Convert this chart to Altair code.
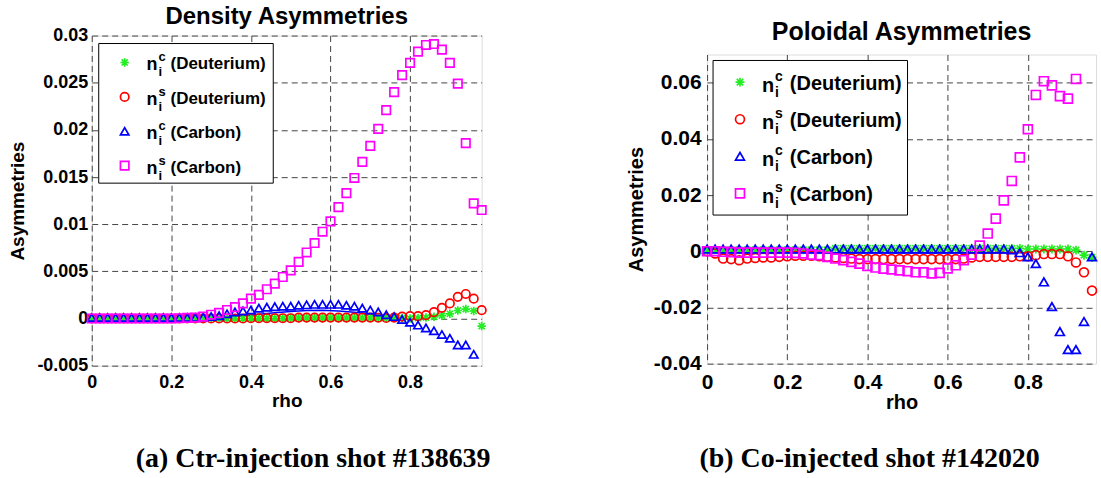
import altair as alt
import pandas as pd

SANS = "Liberation Sans"
SERIF = "Liberation Serif"

# ---------------- series definitions ----------------
series_keys = ["ncD", "nsD", "ncC", "nsC"]
series_sup = ["c", "s", "c", "s"]
series_name = ["(Deuterium)", "(Deuterium)", "(Carbon)", "(Carbon)"]
series_colors = ["#22ee22", "#ff0000", "#0000ff", "#ff00ff"]
STAR = "M-1,0L1,0M0,-1L0,1M-0.72,-0.72L0.72,0.72M-0.72,0.72L0.72,-0.72"
series_shapes = [STAR, "circle", "triangle-up", "square"]

# ---------------- (a) Density asymmetries ----------------
title_a = "Density Asymmetries"
caption_a = "(a) Ctr-injection shot #138639"
rho_a = [0.00, 0.02, 0.04, 0.06, 0.08, 0.10, 0.12, 0.14, 0.16, 0.18,
         0.20, 0.22, 0.24, 0.26, 0.28, 0.30, 0.32, 0.34, 0.36, 0.38,
         0.40, 0.42, 0.44, 0.46, 0.48, 0.50, 0.52, 0.54, 0.56, 0.58,
         0.60, 0.62, 0.64, 0.66, 0.68, 0.70, 0.72, 0.74, 0.76, 0.78,
         0.80, 0.82, 0.84, 0.86, 0.88, 0.90, 0.92, 0.94, 0.96, 0.98]
ncD_a = [0, 0, 0, 0, 0, 0, 0, 0, 0, 0,
         0, 0, 0, 0, 0, 0, 0, 0, 0, 0,
         0, 0, 0, 0, 0, 0.00005, 0.00005, 0.00005, 0.00005, 0.00005,
         0.00005, 0.00005, 0.00005, 0.00005, 0.00005, 0.00005, 0.00005, 0.00005, 0.00005, 0.00005,
         0.0, 0.00005, 0.0001, 0.00018, 0.0003, 0.0005, 0.00085, 0.001, 0.0008, -0.0008]
nsD_a = [0, 0, 0, 0, 0, 0, 0, 0, 0, 0,
         0, 0, 0, 0, 0, 0, 0, 0, 0, 0,
         0.00003, 0.00003, 0.00003, 0.00003, 0.00003, 0.00003, 0.0001, 0.0001, 0.0001, 0.0001,
         0.0001, 0.0001, 0.0001, 0.0001, 0.0001, 0.0001, 0.00008, 0.00005, 0.0001, 0.0002,
         0.00025, 0.00025, 0.00035, 0.00067, 0.00113, 0.0016, 0.0023, 0.0026, 0.0021, 0.00088]
ncC_a = [0.0001, 0.0001, 0.0001, 0.0001, 0.0001, 0.0001, 0.0001, 0.0001, 0.0001, 0.0001,
         0.0001, 0.0001, 0.0001, 0.0001, 0.00015, 0.0002, 0.0003, 0.0005, 0.0007, 0.0008,
         0.0009, 0.0011, 0.0012, 0.00125, 0.0013, 0.0013, 0.0014, 0.00145, 0.0015, 0.0015,
         0.0015, 0.0015, 0.0014, 0.0013, 0.0011, 0.0009, 0.0007, 0.0004, 0.0002, -0.0001,
         -0.0004, -0.0007, -0.001, -0.0013, -0.0017, -0.0021, -0.0028, -0.0028, -0.0038, None]
nsC_a = [0, 0, 0, 0, 0, 0, 0, 0, 0, 0,
         0, 0.00003, 0.00006, 0.0001, 0.0002, 0.0004, 0.0006, 0.0009, 0.0012, 0.0016,
         0.0021, 0.0025, 0.0031, 0.0037, 0.0044, 0.0051, 0.0060, 0.0070, 0.0080, 0.0092,
         0.0103, 0.0118, 0.0133, 0.0149, 0.0166, 0.0183, 0.0201, 0.0221, 0.0240, 0.0258,
         0.0271, 0.0283, 0.0290, 0.0291, 0.0285, 0.0271, 0.0249, 0.0186, 0.0122, 0.0115]
fit_rho_a = [0.26, 0.30, 0.34, 0.38, 0.42, 0.46, 0.50, 0.54, 0.58, 0.62, 0.66, 0.70, 0.74, 0.78]
fit_a = [0.0, 0.00005, 0.00015, 0.0003, 0.00045, 0.0006, 0.00075, 0.00085, 0.00088,
         0.0008, 0.00065, 0.00045, 0.00025, 0.00005]
xdom_a = [0, 0.98]
ydom_a = [-0.005, 0.03]
xticks_a = [0, 0.2, 0.4, 0.6, 0.8]
yticks_a = [-0.005, 0, 0.005, 0.01, 0.015, 0.02, 0.025, 0.03]

# ---------------- (b) Poloidal asymmetries ----------------
title_b = "Poloidal Asymmetries"
caption_b = "(b) Co-injected shot #142020"
rho_b = [0.00, 0.02, 0.04, 0.06, 0.08, 0.10, 0.12, 0.14, 0.16, 0.18,
         0.20, 0.22, 0.24, 0.26, 0.28, 0.30, 0.32, 0.34, 0.36, 0.38,
         0.40, 0.42, 0.44, 0.46, 0.48, 0.50, 0.52, 0.54, 0.56, 0.58,
         0.60, 0.62, 0.64, 0.66, 0.68, 0.70, 0.72, 0.74, 0.76, 0.78,
         0.80, 0.82, 0.84, 0.86, 0.88, 0.90, 0.92, 0.94, 0.96]
ncD_b = [0.0005, 0.0005, 0.0005, 0.0005, 0.0005, 0.0005, 0.0005, 0.0005, 0.0005, 0.0005,
         0.0005, 0.0005, 0.0005, 0.0005, 0.0005, 0.0005, 0.001, 0.001, 0.001, 0.001,
         0.001, 0.001, 0.001, 0.001, 0.001, 0.001, 0.001, 0.001, 0.001, 0.001,
         0.001, 0.001, 0.001, 0.001, 0.001, 0.001, 0.001, 0.001, 0.001, 0.001,
         0.0008, 0.0008, 0.0008, 0.0008, 0.0008, 0.0008, 0.0004, -0.0014, -0.0022]
nsD_b = [0.0, -0.0008, -0.0026, -0.0028, -0.0032, -0.0026, -0.0024, -0.0022, -0.0022, -0.002,
         -0.0018, -0.0016, -0.0016, -0.0016, -0.0018, -0.002, -0.0022, -0.0024, -0.0026, -0.0028,
         -0.0028, -0.0028, -0.0028, -0.0028, -0.0028, -0.0028, -0.0028, -0.0028, -0.0028, -0.0028,
         -0.0028, -0.0028, -0.0026, -0.0022, -0.002, -0.002, -0.002, -0.002, -0.002, -0.0018,
         -0.0018, -0.0014, -0.001, -0.001, -0.001, -0.0018, -0.004, -0.0075, -0.014]
ncC_b = [0.0008, 0.0008, 0.0008, 0.0008, 0.0008, 0.0008, 0.0008, 0.0008, 0.0008, 0.0008,
         0.0008, 0.0008, 0.0008, 0.0008, 0.0008, 0.0008, 0.0008, 0.0008, 0.0008, 0.0008,
         0.0008, 0.0008, 0.0008, 0.0008, 0.0008, 0.0008, 0.0008, 0.0008, 0.0008, 0.0008,
         0.0008, 0.0008, 0.0008, 0.0008, 0.0008, 0.0008, 0.0008, 0.0008, 0.0005, -0.0005,
         -0.002, -0.0044, -0.0109, -0.0197, -0.0286, -0.035, -0.035, -0.025, -0.002]
nsC_b = [0.0, 0.0, -0.0002, -0.0003, -0.0005, -0.0005, -0.0005, -0.0005, -0.0005, -0.0005,
         -0.0005, -0.0006, -0.0008, -0.0012, -0.0014, -0.002, -0.0026, -0.0032, -0.0038, -0.0044,
         -0.0052, -0.0058, -0.0062, -0.0065, -0.0068, -0.0071, -0.0075, -0.0075, -0.0079, -0.0077,
         -0.0061, -0.005, -0.0032, -0.0012, 0.002, 0.0063, 0.0116, 0.0181, 0.025, 0.0334,
         0.0434, 0.0556, 0.0605, 0.059, 0.0552, 0.0543, 0.0613, None, None]
fit_rho_b = [0.0, 0.80]
fit_b = [-0.0005, -0.0005]
xdom_b = [0, 0.97]
ydom_b = [-0.04, 0.07]
xticks_b = [0, 0.2, 0.4, 0.6, 0.8]
yticks_b = [-0.04, -0.02, 0, 0.02, 0.04, 0.06]

LABEL_EXPR = "replace(format(datum.value, '~g'), '\u2212', '-')"


def long_df(rho, cols):
    rows = []
    for key, vals in zip(series_keys, cols):
        for r, v in zip(rho, vals):
            if v is not None:
                rows.append({"rho": r, "val": v, "series": key})
    return pd.DataFrame(rows)


def panel(rho, cols, fit_rho, fit_val, xdom, ydom, xt, yt, title, caption, g):
    xs = alt.Scale(domain=xdom, nice=False, zero=False)
    ys = alt.Scale(domain=ydom, nice=False, zero=False)
    common = dict(grid=True, gridDash=[6, 4], gridColor="#444444", gridWidth=1,
                  ticks=False, tickSize=0, domain=False, labelExpr=LABEL_EXPR,
                  labelFont=SANS, labelFontWeight="bold", labelColor="black",
                  titleFont=SANS, titleFontWeight="bold", titleColor="black",
                  labelFlush=False, labelOverlap=False)
    xa = alt.Axis(values=xt, title="rho", labelFontSize=g["tick_fs"], titleFontSize=g["axt_fs"],
                  labelPadding=g["x_lp"], titlePadding=g["x_tp"], **common)
    ya = alt.Axis(values=yt, title="Asymmetries", labelFontSize=g["tick_fs"], titleFontSize=g["axt_fs"],
                  labelPadding=g["y_lp"], titlePadding=g["y_tp"], **common)
    X = alt.X("rho:Q", scale=xs, axis=xa)
    Y = alt.Y("val:Q", scale=ys, axis=ya)
    color = alt.Color("series:N", scale=alt.Scale(domain=series_keys, range=series_colors), legend=None)
    shape = alt.Shape("series:N", scale=alt.Scale(domain=series_keys, range=series_shapes), legend=None)

    fit = alt.Chart(pd.DataFrame({"rho": fit_rho, "val": fit_val})).mark_line(
        color="#0000ff", strokeWidth=1.5).encode(x=X, y=Y)
    pts = alt.Chart(long_df(rho, cols)).mark_point(
        filled=False, strokeWidth=1.7, opacity=1, size=g["msize"]).encode(
        x=X, y=Y, color=color, shape=shape)

    leg = pd.DataFrame({
        "series": series_keys, "sup": series_sup, "sub": ["i"] * 4, "name": series_name,
        "ypix": [g["row0"] + i * g["row_dy"] for i in range(4)],
    })
    Ypix = alt.Y("ypix:Q", scale=None)
    bx = g["box"]
    box = alt.Chart(pd.DataFrame({"a": [0]})).mark_rect(
        fill="white", stroke="black", strokeWidth=1).encode(
        x=alt.value(bx[0]), x2=alt.value(bx[1]), y=alt.value(bx[2]), y2=alt.value(bx[3]))
    sym = alt.Chart(leg).mark_point(filled=False, strokeWidth=1.7, opacity=1, size=g["msize"]).encode(
        x=alt.value(g["sym_x"]), y=Ypix, color=color, shape=shape)
    tkw = dict(align="left", baseline="middle", font=SANS, fontWeight="bold", color="black")
    ntx = alt.Chart(leg).mark_text(fontSize=g["n_fs"], dy=g["n_dy"], **tkw).encode(
        x=alt.value(g["n_x"]), y=Ypix, text=alt.value("n"))
    sup = alt.Chart(leg).mark_text(fontSize=g["s_fs"], dy=g["sup_dy"], **tkw).encode(
        x=alt.value(g["s_x"]), y=Ypix, text=alt.Text("sup:N"))
    sub = alt.Chart(leg).mark_text(fontSize=g["s_fs"], dy=g["sub_dy"], **tkw).encode(
        x=alt.value(g["s_x"]), y=Ypix, text=alt.Text("sub:N"))
    nam = alt.Chart(leg).mark_text(fontSize=g["l_fs"], dy=g["l_dy"], **tkw).encode(
        x=alt.value(g["l_x"]), y=Ypix, text=alt.Text("name:N"))
    cap = alt.Chart(pd.DataFrame({"t": [caption]})).mark_text(
        font=SERIF, fontSize=28, fontWeight="bold", align="center", baseline="middle",
        color="black").encode(x=alt.value(g["cap"][0]), y=alt.value(g["cap"][1]), text=alt.Text("t:N"))

    return alt.layer(fit, pts, box, sym, ntx, sup, sub, nam, cap).properties(
        width=g["w"], height=g["h"],
        title=alt.TitleParams(title, font=SANS, fontSize=g["title_fs"], fontWeight="bold",
                              color="black", offset=g["title_off"], anchor="middle", frame="group"))


geo_a = dict(w=391, h=331, tick_fs=18, axt_fs=19, x_lp=8, x_tp=0, y_lp=4, y_tp=9,
             msize=72, row0=27, row_dy=34.5, box=[7, 182, 8, 148], sym_x=33,
             n_x=55, n_fs=18, n_dy=3, s_x=67, s_fs=13, sup_dy=-5, sub_dy=10,
             l_x=79, l_fs=17, l_dy=2, cap=[222, 425], title_fs=24, title_off=-2)
geo_b = dict(w=390, h=310, tick_fs=21, axt_fs=20, x_lp=8, x_tp=0, y_lp=6, y_tp=7,
             msize=80, row0=27.7, row_dy=37.2, box=[6, 201, 6, 161], sym_x=33,
             n_x=55, n_fs=20, n_dy=4, s_x=68, s_fs=14, sup_dy=-5, sub_dy=11,
             l_x=83, l_fs=20, l_dy=2, cap=[163, 406], title_fs=25, title_off=10)

left = panel(rho_a, [ncD_a, nsD_a, ncC_a, nsC_a], fit_rho_a, fit_a, xdom_a, ydom_a,
             xticks_a, yticks_a, title_a, caption_a, geo_a)
right = panel(rho_b, [ncD_b, nsD_b, ncC_b, nsC_b], fit_rho_b, fit_b, xdom_b, ydom_b,
              xticks_b, yticks_b, title_b, caption_b, geo_b)

spacer = alt.Chart(pd.DataFrame({"a": [0]})).mark_point(opacity=0).encode(
    x=alt.value(0), y=alt.value(0)).properties(width=390, height=19, view=alt.ViewBackground(stroke=None))

right_col = alt.vconcat(spacer, right, spacing=0, bounds="flush")

chart = alt.hconcat(left, right_col, spacing=134).properties(
    padding={"left": 8, "top": 3, "right": 0, "bottom": 0}
).configure_view(stroke="black", strokeWidth=1).configure(background="white", font=SANS)

chart.save("out.html", embed_options={"renderer": "svg", "actions": False})
